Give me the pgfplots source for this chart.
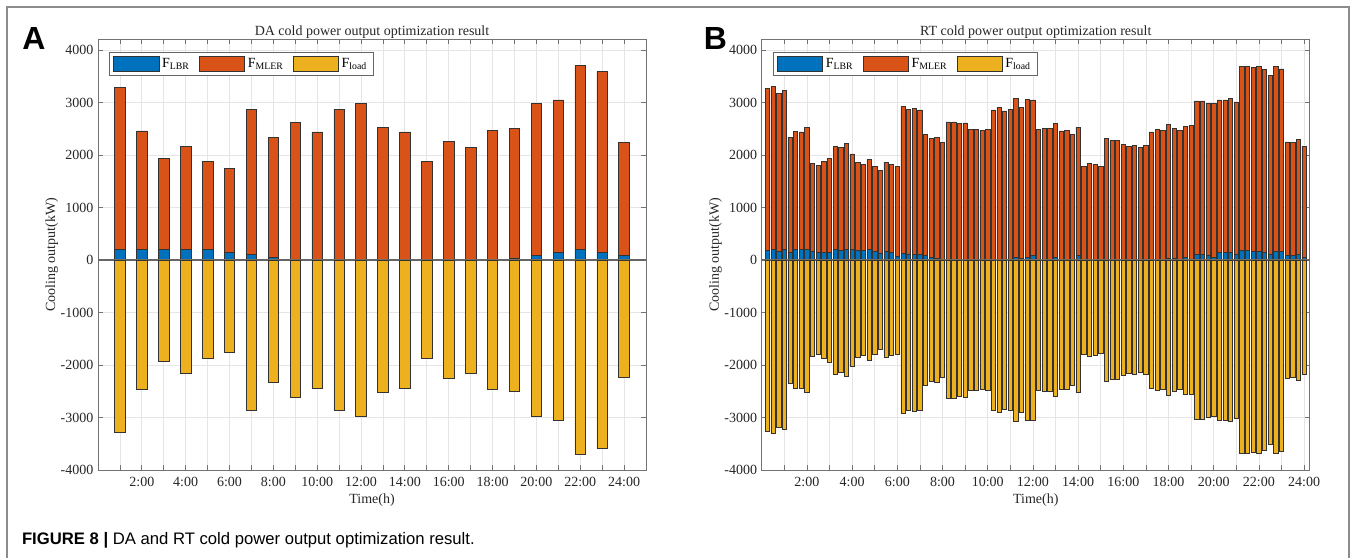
\documentclass[border=0pt]{standalone}
\usepackage{fontspec}
\setmainfont{Liberation Serif}
\newfontfamily\capfont{Liberation Sans}
\usepackage{pgfplots}
\pgfplotsset{compat=1.18}
\usepackage{pgfplotstable}

\definecolor{clbr}{RGB}{0,114,189}
\definecolor{cmler}{RGB}{217,83,25}
\definecolor{cload}{RGB}{237,177,32}

% DA: hourly
\pgfplotstableread{
x lbr mler load
1 200 3080 -3280
2 200 2260 -2460
3 200 1730 -1930
4 200 1960 -2160
5 200 1680 -1880
6 150 1600 -1750
7 100 2770 -2870
8 50 2280 -2330
9 0 2620 -2620
10 0 2440 -2440
11 0 2870 -2870
12 0 2980 -2980
13 0 2530 -2530
14 0 2440 -2440
15 0 1880 -1880
16 0 2260 -2260
17 0 2150 -2150
18 0 2470 -2470
19 40 2470 -2510
20 90 2890 -2980
21 150 2900 -3050
22 200 3500 -3700
23 150 3440 -3590
24 90 2150 -2240
}\datada

% RT: 15 min
\pgfplotstableread{
x lbr mler load
0.25 185 3085 -3270
0.5 195 3105 -3300
0.75 165 3015 -3180
1 195 3035 -3230
1.25 150 2190 -2340
1.5 195 2255 -2450
1.75 195 2245 -2440
2 195 2335 -2530
2.25 160 1680 -1840
2.5 145 1655 -1800
2.75 150 1720 -1870
3 150 1790 -1940
3.25 195 1975 -2170
3.5 185 1955 -2140
3.75 195 2025 -2220
4 195 1825 -2020
4.25 190 1670 -1860
4.5 185 1635 -1820
4.75 195 1715 -1910
5 165 1625 -1790
5.25 135 1565 -1700
5.5 170 1690 -1860
5.75 140 1680 -1820
6 75 1715 -1790
6.25 125 2795 -2920
6.5 115 2755 -2870
6.75 110 2780 -2890
7 110 2750 -2860
7.25 80 2310 -2390
7.5 50 2270 -2320
7.75 25 2305 -2330
8 15 2225 -2240
8.25 0 2630 -2630
8.5 0 2630 -2630
8.75 0 2600 -2600
9 15 2595 -2610
9.25 10 2470 -2480
9.5 0 2480 -2480
9.75 0 2470 -2470
10 0 2490 -2490
10.25 0 2860 -2860
10.5 0 2910 -2910
10.75 0 2840 -2840
11 0 2870 -2870
11.25 50 3030 -3080
11.5 25 2875 -2900
11.75 55 3005 -3060
12 80 2970 -3050
12.25 0 2480 -2480
12.5 0 2510 -2510
12.75 0 2510 -2510
13 50 2550 -2600
13.25 0 2460 -2460
13.5 0 2470 -2470
13.75 0 2390 -2390
14 80 2450 -2530
14.25 0 1790 -1790
14.5 0 1840 -1840
14.75 0 1820 -1820
15 0 1780 -1780
15.25 0 2310 -2310
15.5 0 2270 -2270
15.75 0 2270 -2270
16 0 2200 -2200
16.25 0 2160 -2160
16.5 0 2180 -2180
16.75 0 2140 -2140
17 0 2180 -2180
17.25 0 2440 -2440
17.5 0 2490 -2490
17.75 0 2470 -2470
18 40 2540 -2580
18.25 30 2470 -2500
18.5 0 2470 -2470
18.75 50 2500 -2550
19 20 2540 -2560
19.25 100 2930 -3030
19.5 100 2930 -3030
19.75 80 2910 -2990
20 55 2925 -2980
20.25 145 2905 -3050
20.5 140 2910 -3050
20.75 150 2930 -3080
21 100 2910 -3010
21.25 175 3505 -3680
21.5 185 3495 -3680
21.75 165 3495 -3660
22 170 3510 -3680
22.25 150 3480 -3630
22.5 115 3405 -3520
22.75 170 3510 -3680
23 170 3470 -3640
23.25 90 2160 -2250
23.5 80 2160 -2240
23.75 110 2180 -2290
24 50 2120 -2170
}\datart

\pgfplotsset{
  panel/.style={
    scale only axis, width=411pt, height=322.9pt,
    ymin=-4000, ymax=4200, enlargelimits=false,
    ytick={-4000,-3000,...,4000},
    xtick={1,...,24},
    xticklabels={,2:00,,4:00,,6:00,,8:00,,10:00,,12:00,,14:00,,16:00,,18:00,,20:00,,22:00,,24:00},
    tick align=inside, tick pos=both, major tick length=3.5pt,
    axis line style={black!55, line width=0.6pt},
    every tick/.style={black!55, line width=0.6pt},
    grid=major, major grid style={black!10, line width=0.6pt},
    /pgf/number format/assume math mode=true,
    /pgf/number format/set thousands separator={},
    ticklabel style={font=\fontsize{10.5}{12}\selectfont, black!85},
    xticklabel style={yshift=-1.5pt},
    label style={font=\fontsize{10.5}{12}\selectfont, black!85},
    title style={font=\fontsize{10.5}{12}\selectfont, black!85, yshift=-8.5pt},
    xlabel={Time(h)}, ylabel={Cooling output(kW)},
    xlabel style={yshift=1.5pt}, ylabel style={yshift=-5pt},
    legend style={at={(0.02,0.971)}, anchor=north west, legend columns=3,
      draw=black!60, fill=white, line width=0.6pt, inner xsep=3pt, inner ysep=2.5pt,
      font=\fontsize{10.5}{12}\selectfont,
      /tikz/every even column/.style={column sep=5pt}},
  },
  legpatch/.style={
    legend image code/.code={\draw[##1, line width=0.6pt] (0pt,-5.5pt) rectangle (34pt,5.5pt);},
  },
  loadpanel/.style={
    scale only axis, width=411pt, height=322.9pt,
    ymin=-4000, ymax=4200, enlargelimits=false,
    xtick=\empty, ytick=\empty, axis line style={draw=none},
    extra y ticks={0}, extra y tick labels={},
    extra y tick style={major tick length=0pt, grid=major,
      major grid style={black!60, line width=1.1pt}},
  },
  barsty/.style={draw=black!80, line width=0.5pt},
}

\begin{document}
\begin{tikzpicture}
\useasboundingbox (0,0) rectangle (1017pt,418.5pt);
\draw[black!45, line width=0.8pt] (5.25pt,0) -- (5.25pt,413.25pt) -- (1011.75pt,413.25pt) -- (1011.75pt,0);

% panel A
\begin{axis}[panel, at={(73.5pt,66pt)}, anchor=south west,
  xmin=0, xmax=25, ybar stacked, bar width=0.48, legpatch,
  title={DA cold power output optimization result}]
\addplot[barsty, fill=clbr] table[x=x, y=lbr] {\datada};
\addlegendentry{F\textsubscript{LBR}}
\addplot[barsty, fill=cmler] table[x=x, y=mler] {\datada};
\addlegendentry{F\textsubscript{MLER}}
\addlegendimage{barsty, fill=cload}
\addlegendentry{F\textsubscript{load}}
\end{axis}
\begin{axis}[loadpanel, at={(73.5pt,66pt)}, anchor=south west,
  xmin=0, xmax=25, ybar, bar width=0.48, bar shift=0pt]
\addplot[barsty, fill=cload] table[x=x, y=load] {\datada};
\end{axis}

% panel B
\begin{axis}[panel, at={(571.3pt,66pt)}, anchor=south west,
  xmin=0, xmax=24.25, ybar stacked, bar width=0.19, legpatch,
  title={RT cold power output optimization result}]
\addplot[barsty, fill=clbr] table[x=x, y=lbr] {\datart};
\addlegendentry{F\textsubscript{LBR}}
\addplot[barsty, fill=cmler] table[x=x, y=mler] {\datart};
\addlegendentry{F\textsubscript{MLER}}
\addlegendimage{barsty, fill=cload}
\addlegendentry{F\textsubscript{load}}
\end{axis}
\begin{axis}[loadpanel, at={(571.3pt,66pt)}, anchor=south west,
  xmin=0, xmax=24.25, ybar, bar width=0.19, bar shift=0pt]
\addplot[barsty, fill=cload] table[x=x, y=load] {\datart};
\end{axis}

\node[font=\capfont\bfseries\fontsize{24}{24}\selectfont] at (25.5pt,390pt) {A};
\node[font=\capfont\bfseries\fontsize{24}{24}\selectfont] at (536.5pt,390pt) {B};
\node[anchor=base west, font=\capfont\fontsize{12.5}{14}\selectfont] at (13pt,10pt)
  {\textbf{FIGURE 8 |} DA and RT cold power output optimization result.};
\end{tikzpicture}
\end{document}
